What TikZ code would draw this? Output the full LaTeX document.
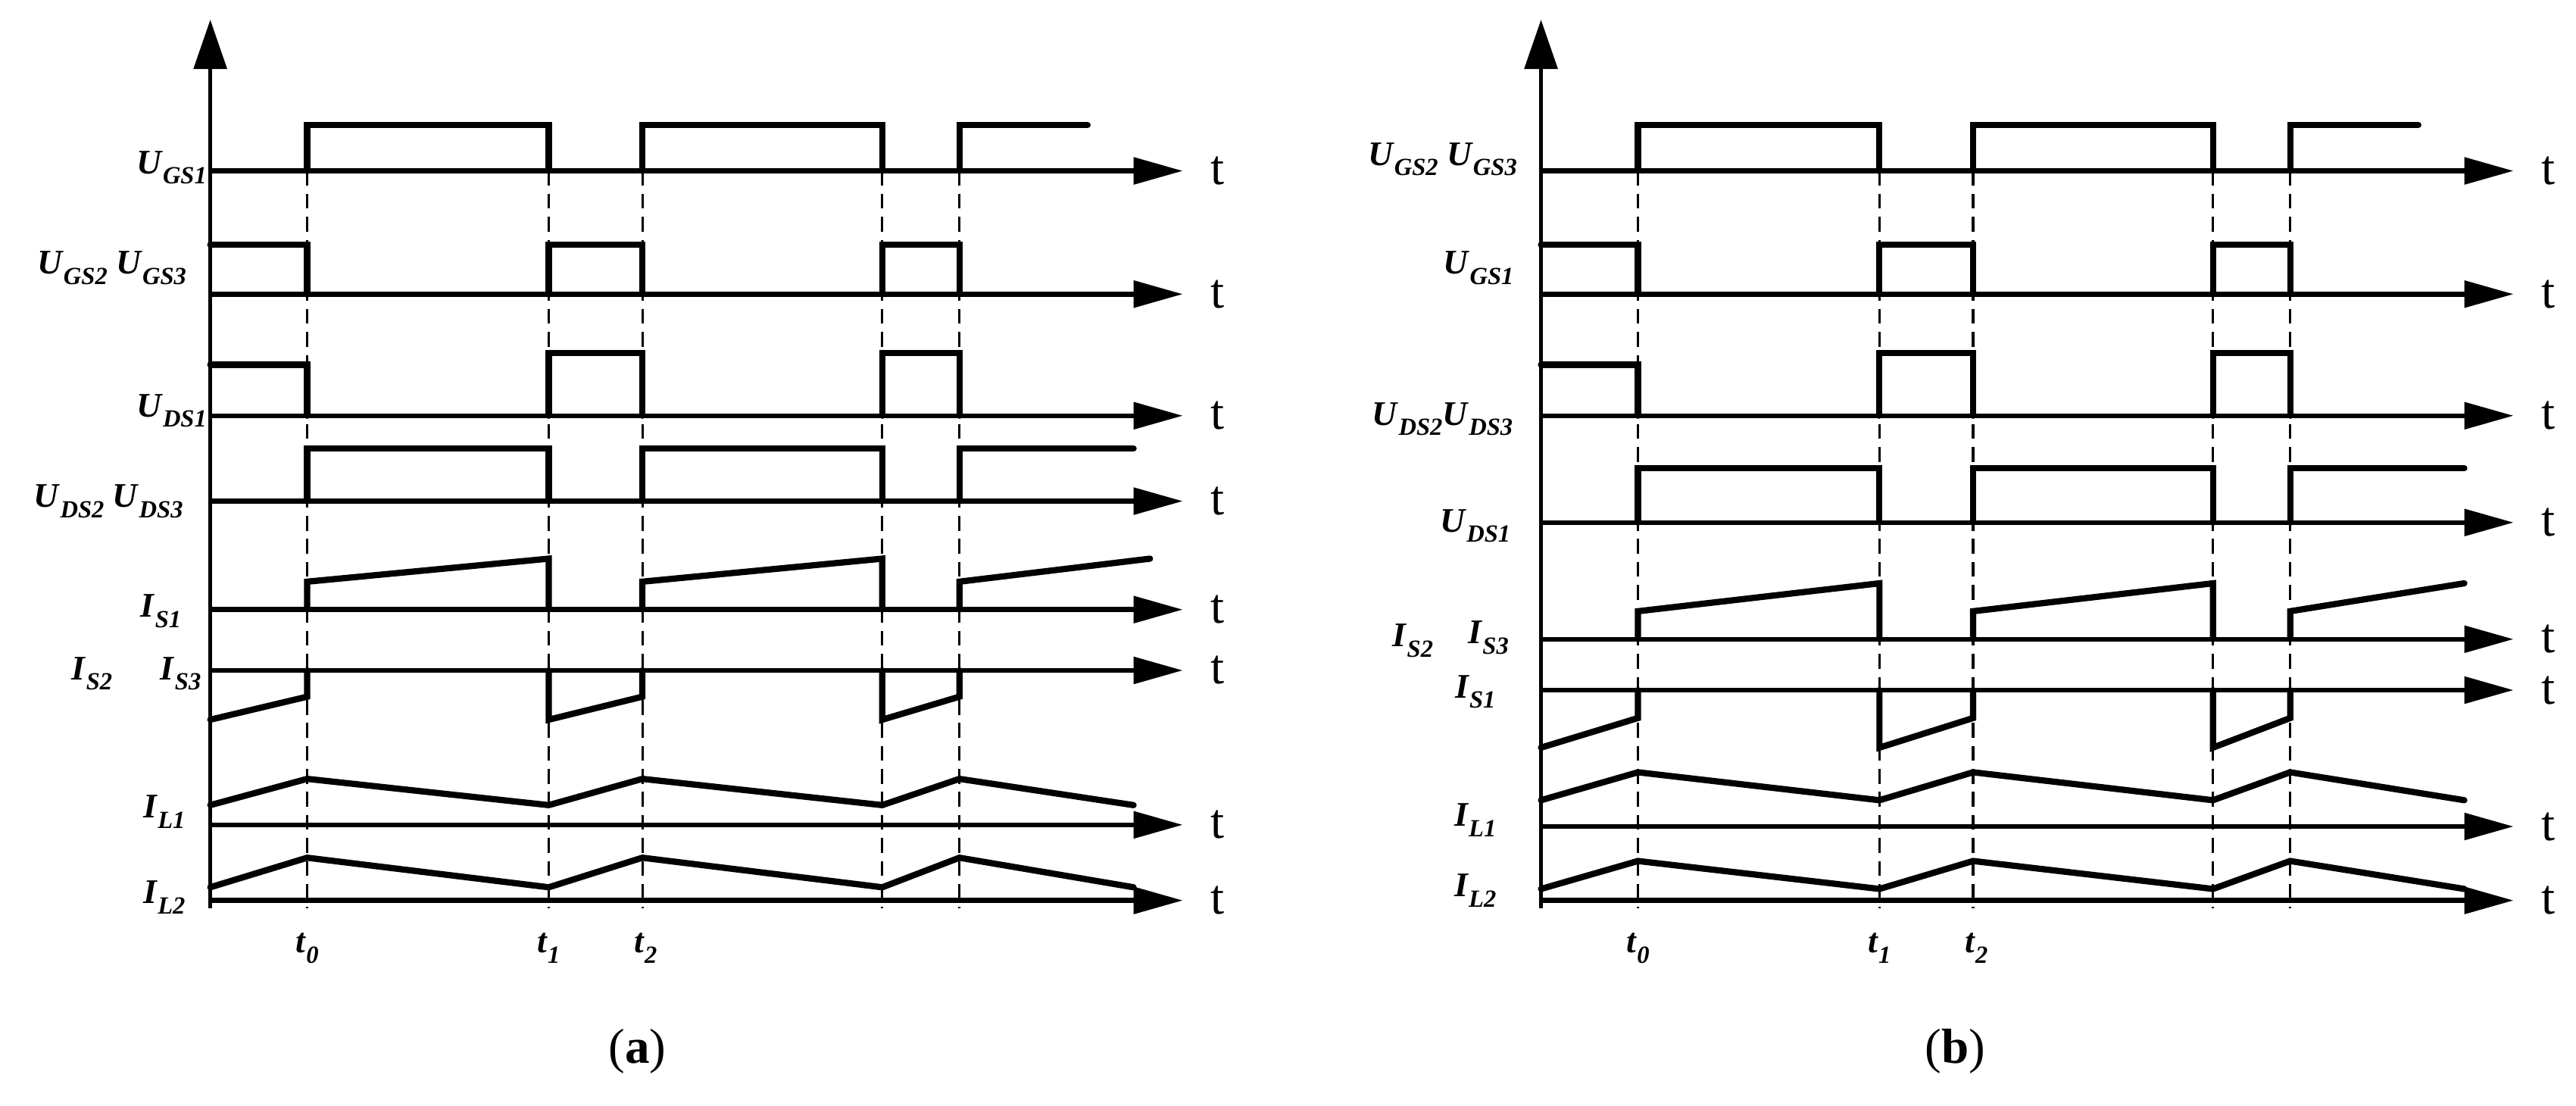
\documentclass[tikz,border=0pt]{standalone}
\usepackage{fontspec}
\setmainfont{Liberation Serif}
\usetikzlibrary{arrows.meta}
\newcommand\lab[1]{\textbf{\textit{#1}}}
\newcommand\lb[2]{\lab{#1}\raisebox{-0.3em}{\fontsize{15}{15}\selectfont\lab{#2}}}
\newcommand\wPulse[3]{%
 \draw[w] (187,#1)--(187,#2)--(334,#2)--(334,#1) (391,#1)--(391,#2)--(537,#2)--(537,#1) (584,#1)--(584,#2)--(#3,#2);}
\newcommand\wNeg[3]{%
 \draw[w] (128,#2)--(187,#2)--(187,#1) (334,#1)--(334,#3)--(391,#3)--(391,#1) (537,#1)--(537,#3)--(584,#3)--(584,#1);}
\newcommand\wRamp[4]{%
 \draw[w] (187,#1)--(187,#2)--(334,#3)--(334,#1) (391,#1)--(391,#2)--(537,#3)--(537,#1) (584,#1)--(584,#2)--(#4,#3);}
\newcommand\wNegRamp[3]{%
 \draw[w] (128,#2)--(187,#3)--(187,#1) (334,#1)--(334,#2)--(391,#3)--(391,#1) (537,#1)--(537,#2)--(584,#3)--(584,#1);}
\newcommand\wTri[2]{%
 \draw[w] (128,#1)--(187,#2)--(334,#1)--(391,#2)--(537,#1)--(584,#2)--(690,#1);}
\newcommand\tax[1]{\draw[ax] (128,#1)--(720,#1); \node[tt] at (741,#1) {t};}
\newcommand\dashes{\foreach \x in {187,334,391,537,584} \draw[dl] (\x,76)--(\x,553);}
\begin{document}
\begin{tikzpicture}[x=1pt,y=-1pt,
 w/.style={line width=3.8pt,line join=miter,line cap=round},
 ax/.style={line width=3pt,-{Triangle[length=30pt,width=16pt]}},
 yax/.style={line width=2.4pt,-{Triangle[length=30pt,width=20pt]}},
 dl/.style={line width=1.4pt,dash pattern=on 9pt off 5pt},
 lb/.style={font=\fontsize{21}{21}\selectfont,inner sep=1pt},
 tt/.style={font=\fontsize{30}{30}\selectfont,inner sep=0pt}]
\useasboundingbox (0,0) rectangle (1568,673);
\begin{scope}
\draw[yax] (128,553)--(128,12);
\foreach \y in {104,179,253,305,371,408,502,548} {\tax{\y}}
\dashes
\wPulse{104}{76}{662}
\wNeg{179}{149}{149}
\wNeg{253}{222}{215}
\wPulse{305}{273}{690}
\wRamp{371}{354}{340}{700}
\wNegRamp{408}{438}{424}
\wTri{490}{474}
\wTri{540}{522}
\node[lb,anchor=east] (a1) at (127,102) {\lb{U}{GS1}};
\node[lb] (a2) at (68,163) {\lb{U}{GS2} \lb{U}{GS3}};
\node[lb,anchor=east] (a3) at (127,250) {\lb{U}{DS1}};
\node[lb] (a4) at (66,305) {\lb{U}{DS2} \lb{U}{DS3}};
\node[lb] (a5) at (98,372) {\lb{I}{S1}};
\node[lb] (a6) at (56,410) {\lb{I}{S2}};
\node[lb] (a7) at (110,410) {\lb{I}{S3}};
\node[lb] (a8) at (100,494) {\lb{I}{L1}};
\node[lb] (a9) at (100,546) {\lb{I}{L2}};
\node[lb] (t0a) at (187,577) {\lb{t}{0}};
\node[lb] (t1a) at (334,577) {\lb{t}{1}};
\node[lb] (t2a) at (393,577) {\lb{t}{2}};
\node[tt] (capa) at (388,640) {(\textbf{a})};
\end{scope}
\begin{scope}[xshift=810pt]
\draw[yax] (128,553)--(128,12);
\foreach \y in {104,179,253,318,389,420,503,548} {\tax{\y}}
\dashes
\wPulse{104}{76}{662}
\wNeg{179}{149}{149}
\wNeg{253}{222}{215}
\wPulse{318}{285}{690}
\wRamp{389}{372}{355}{690}
\wNegRamp{420}{455}{437}
\wTri{487}{470}
\wTri{541}{524}
\node[lb] (b1) at (68,97) {\lb{U}{GS2} \lb{U}{GS3}};
\node[lb] (b2) at (90,163) {\lb{U}{GS1}};
\node[lb] (b3) at (68,255) {\lb{U}{DS2}\lb{U}{DS3}};
\node[lb] (b4) at (88,320) {\lb{U}{DS1}};
\node[lb] (b5) at (50,390) {\lb{I}{S2}};
\node[lb] (b6) at (96,388) {\lb{I}{S3}};
\node[lb] (b7) at (88,421) {\lb{I}{S1}};
\node[lb] (b8) at (88,499) {\lb{I}{L1}};
\node[lb] (b9) at (88,542) {\lb{I}{L2}};
\node[lb] (t0b) at (187,577) {\lb{t}{0}};
\node[lb] (t1b) at (334,577) {\lb{t}{1}};
\node[lb] (t2b) at (393,577) {\lb{t}{2}};
\node[tt] (capb) at (380,640) {(\textbf{b})};
\end{scope}
\end{tikzpicture}
\end{document}
